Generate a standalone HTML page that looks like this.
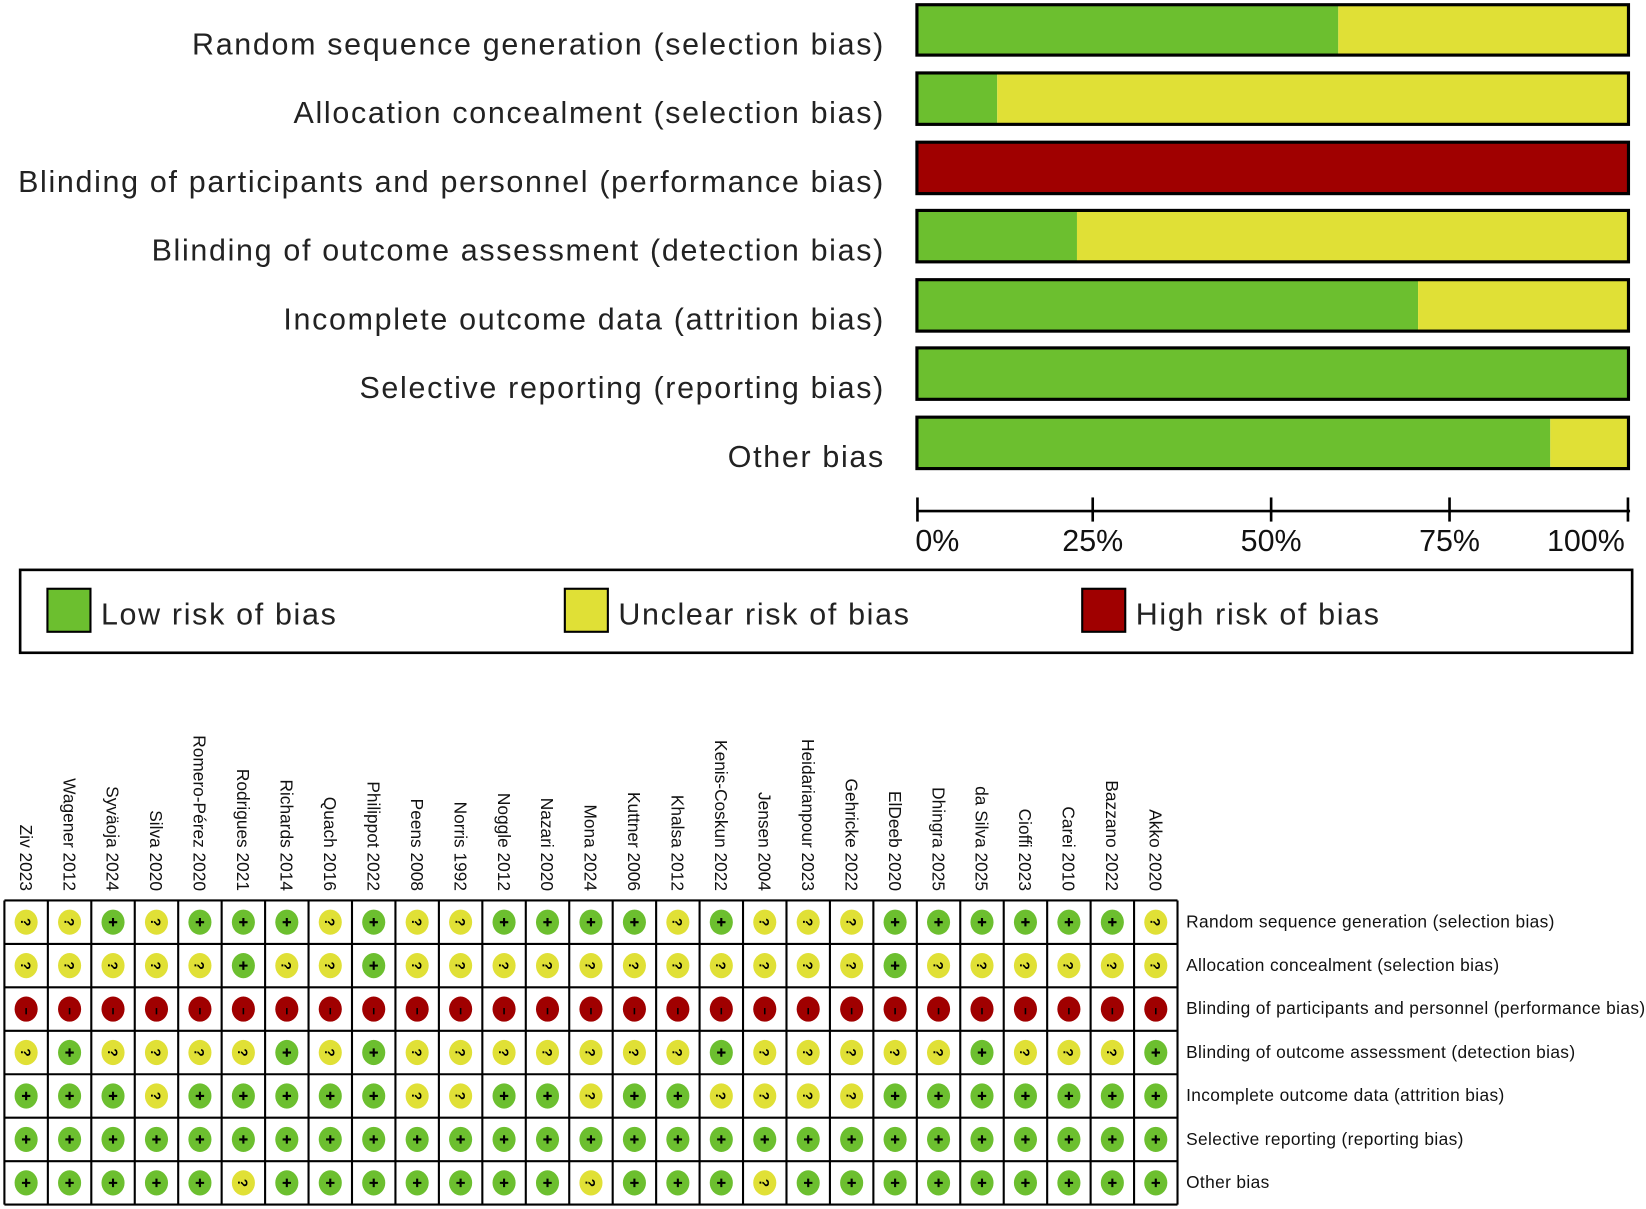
<!DOCTYPE html>
<html><head><meta charset="utf-8"><style>
html,body{margin:0;padding:0;background:#fff;}
svg{display:block;}
.lab{font-family:"Liberation Sans",sans-serif;font-size:29px;fill:#222;letter-spacing:1.6px;}
.ax{font-family:"Liberation Sans",sans-serif;font-size:29px;fill:#111;}
.col{font-family:"Liberation Sans",sans-serif;font-size:16.5px;fill:#111;}
.row{font-family:"Liberation Sans",sans-serif;font-size:16.5px;fill:#111;letter-spacing:0.35px;}
</style></head><body>
<svg id="s" width="1646" height="1209" viewBox="0 0 1568 1152" xmlns="http://www.w3.org/2000/svg">
<g class="lab" text-anchor="end">
<text x="843" y="52">Random sequence generation (selection bias)</text>
<text x="843" y="117">Allocation concealment (selection bias)</text>
<text x="843" y="183">Blinding of participants and personnel (performance bias)</text>
<text x="843" y="248">Blinding of outcome assessment (detection bias)</text>
<text x="843" y="314">Incomplete outcome data (attrition bias)</text>
<text x="843" y="379">Selective reporting (reporting bias)</text>
<text x="843" y="445">Other bias</text>
</g>
<g stroke="none">
<rect x="874" y="5" width="401" height="47" fill="#6cbf2f"/><rect x="1275" y="5" width="276" height="47" fill="#e0e036"/>
<rect x="874" y="70" width="76" height="48" fill="#6cbf2f"/><rect x="950" y="70" width="601" height="48" fill="#e0e036"/>
<rect x="874" y="136" width="677" height="48" fill="#a00000"/>
<rect x="874" y="201" width="152" height="48" fill="#6cbf2f"/><rect x="1026" y="201" width="525" height="48" fill="#e0e036"/>
<rect x="874" y="267" width="477" height="48" fill="#6cbf2f"/><rect x="1351" y="267" width="200" height="48" fill="#e0e036"/>
<rect x="874" y="332" width="677" height="48" fill="#6cbf2f"/>
<rect x="874" y="398" width="603" height="48" fill="#6cbf2f"/><rect x="1477" y="398" width="74" height="48" fill="#e0e036"/>
</g>
<g fill="none" stroke="#000" stroke-width="3">
<rect x="873.5" y="4.5" width="678" height="48"/>
<rect x="873.5" y="69.5" width="678" height="49"/>
<rect x="873.5" y="135.5" width="678" height="49"/>
<rect x="873.5" y="200.5" width="678" height="49"/>
<rect x="873.5" y="266.5" width="678" height="49"/>
<rect x="873.5" y="331.5" width="678" height="49"/>
<rect x="873.5" y="397.5" width="678" height="49"/>
</g>
<g stroke="#000" stroke-width="2.5">
<line x1="873" y1="487" x2="1553" y2="487"/>
<line x1="874" y1="474" x2="874" y2="497"/>
<line x1="1041" y1="474" x2="1041" y2="497"/>
<line x1="1211" y1="474" x2="1211" y2="497"/>
<line x1="1381" y1="474" x2="1381" y2="497"/>
<line x1="1551" y1="474" x2="1551" y2="497"/>
</g>
<g class="ax">
<text x="872" y="525">0%</text>
<text x="1041" y="525" text-anchor="middle">25%</text>
<text x="1211" y="525" text-anchor="middle">50%</text>
<text x="1381" y="525" text-anchor="middle">75%</text>
<text x="1548" y="525" text-anchor="end">100%</text>
</g>
<rect x="19" y="543" width="1536" height="79" fill="none" stroke="#000" stroke-width="2.5"/>
<rect x="45" y="561" width="41" height="41" fill="#6cbf2f" stroke="#000" stroke-width="2"/>
<rect x="538" y="561" width="41" height="41" fill="#e0e036" stroke="#000" stroke-width="2"/>
<rect x="1031" y="561" width="41" height="41" fill="#a00000" stroke="#000" stroke-width="2"/>
<g class="lab">
<text x="96" y="595">Low risk of bias</text>
<text x="589" y="595">Unclear risk of bias</text>
<text x="1082" y="595">High risk of bias</text>
</g>
<g class="col" text-anchor="end">
<text transform="translate(18.7,849) rotate(90)">Ziv 2023</text>
<text transform="translate(60.1,849) rotate(90)">Wagener 2012</text>
<text transform="translate(101.5,849) rotate(90)">Syväoja 2024</text>
<text transform="translate(142.9,849) rotate(90)">Silva 2020</text>
<text transform="translate(184.3,849) rotate(90)">Romero-Pérez 2020</text>
<text transform="translate(225.7,849) rotate(90)">Rodrigues 2021</text>
<text transform="translate(267.1,849) rotate(90)">Richards 2014</text>
<text transform="translate(308.5,849) rotate(90)">Quach 2016</text>
<text transform="translate(349.9,849) rotate(90)">Philippot 2022</text>
<text transform="translate(391.3,849) rotate(90)">Peens 2008</text>
<text transform="translate(432.7,849) rotate(90)">Norris 1992</text>
<text transform="translate(474.1,849) rotate(90)">Noggle 2012</text>
<text transform="translate(515.5,849) rotate(90)">Nazari 2020</text>
<text transform="translate(556.9,849) rotate(90)">Mona 2024</text>
<text transform="translate(598.3,849) rotate(90)">Kuttner 2006</text>
<text transform="translate(639.7,849) rotate(90)">Khalsa 2012</text>
<text transform="translate(681.1,849) rotate(90)">Kenis-Coskun 2022</text>
<text transform="translate(722.5,849) rotate(90)">Jensen 2004</text>
<text transform="translate(763.9,849) rotate(90)">Heidarianpour 2023</text>
<text transform="translate(805.3,849) rotate(90)">Gehricke 2022</text>
<text transform="translate(846.7,849) rotate(90)">ElDeeb 2020</text>
<text transform="translate(888.1,849) rotate(90)">Dhingra 2025</text>
<text transform="translate(929.5,849) rotate(90)">da Silva 2025</text>
<text transform="translate(970.9,849) rotate(90)">Cioffi 2023</text>
<text transform="translate(1012.3,849) rotate(90)">Carei 2010</text>
<text transform="translate(1053.7,849) rotate(90)">Bazzano 2022</text>
<text transform="translate(1095.1,849) rotate(90)">Akko 2020</text>
</g>
<g class="row">
<text x="1130" y="884">Random sequence generation (selection bias)</text>
<text x="1130" y="925">Allocation concealment (selection bias)</text>
<text x="1130" y="966">Blinding of participants and personnel (performance bias)</text>
<text x="1130" y="1008">Blinding of outcome assessment (detection bias)</text>
<text x="1130" y="1049">Incomplete outcome data (attrition bias)</text>
<text x="1130" y="1091">Selective reporting (reporting bias)</text>
<text x="1130" y="1132">Other bias</text>
</g>
<g id="grid"></g>
</svg>
<script>
(function(){
var g=document.getElementById("grid");
var rows=["YYGYGGGYGYYGGGGYGYYYGGGGGGY","YYYYYGYYGYYYYYYYYYYYGYYYYYY","RRRRRRRRRRRRRRRRRRRRRRRRRRR","YGYYYYGYGYYYYYYYGYYYYYGYYYG","GGGYGGGGGYYGGYGGYYYYGGGGGGG","GGGGGGGGGGGGGGGGGGGGGGGGGGG","GGGGGYGGGGGGGYGGGYGGGGGGGGG"];
var col={G:"#6cbf2f",Y:"#e0e036",R:"#a00000"};
var x0=4,y0=858,w=41.4,h=41.4,s="";
for(var j=0;j<7;j++)for(var i=0;i<27;i++){
 var c=rows[j][i],cx=x0+w*(i+.5),cy=y0+h*(j+.5);
 s+='<ellipse cx="'+cx+'" cy="'+cy+'" rx="11" ry="12" fill="'+col[c]+'"/>';
 if(c=="G")s+='<path d="M'+(cx-4)+' '+cy+'h8M'+cx+' '+(cy-4)+'v8" stroke="#000" stroke-width="2"/>';
 else if(c=="R")s+='<path d="M'+cx+' '+(cy-1)+'v6" stroke="#000" stroke-width="1.5"/>';
 else s+='<text x="'+cx+'" y="'+(cy+5)+'" text-anchor="middle" font-family="Liberation Sans,sans-serif" font-weight="bold" font-size="13" transform="rotate(90 '+cx+' '+cy+')">?</text>';
}
for(var i=0;i<=27;i++)s+='<line x1="'+(x0+w*i)+'" y1="'+y0+'" x2="'+(x0+w*i)+'" y2="'+(y0+h*7)+'" stroke="#000" stroke-width="2"/>';
for(var j=0;j<=7;j++)s+='<line x1="'+x0+'" y1="'+(y0+h*j)+'" x2="'+(x0+w*27)+'" y2="'+(y0+h*j)+'" stroke="#000" stroke-width="2"/>';
g.innerHTML=s;
})();
</script>
</body></html>
